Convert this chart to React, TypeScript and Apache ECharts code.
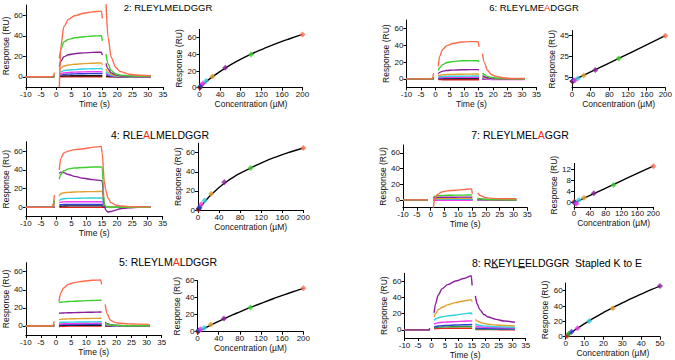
import React, { useEffect, useRef } from "react";
import * as echarts from "echarts";

const FONT = '"Liberation Sans", Arial, sans-serif';
const N = null;

// Sampling times (s) shared by every sensorgram trace; null values break the trace.
const TIME = [-10, -1.5, -1, -0.6, 0, 1, 1.5, 2.5, 4, 6, 9, 12, 14.8, 15.1, 15.8, 16.3, 17, 18, 19.5, 21, 24, 27, 31];

// Analyte concentrations (µM)
const CONC = [0.78, 1.56, 3.125, 6.25, 12.5, 25, 50, 100, 200];
const CONC_8 = [0.78, 1.56, 3.125, 6.25, 12.5, 25, 50];

const RED = "#e5261f";
const BLACK = "#1b1b1b";
const BLUE = "#2f3fd8";
const MAGENTA = "#f23cf0";
const CYAN = "#2fd0e0";
const ORANGE = "#e2a12e";
const PURPLE = "#8b1f9b";
const GREEN = "#3ccf2e";
const DARKGREEN = "#2e9e3a";
const SALMON = "#ff6a4d";

const COLORS = [RED, BLACK, BLUE, MAGENTA, CYAN, ORANGE, PURPLE, GREEN, SALMON];
const COLORS_8 = [RED, DARKGREEN, BLUE, MAGENTA, CYAN, ORANGE, PURPLE];

// Sensorgram responses (RU), one row per concentration
const SENSOR_2 = [
  [0, 0, 0, 0, N, 0, 0, 0, 0, 0, 0, 0, 0, 0, N, 0, 0, 0, 0, 0, 0, 0, 0],
  [0, 0, 0, 0.3, N, 0.3, 0.6, 0.8, 0.9, 1, 1, 1, 1, 0.8, N, 0.6, 0.4, 0.2, 0.1, 0, 0, 0, 0],
  [0, 0, 0, 0.5, N, 1, 1.6, 2.2, 2.6, 2.8, 3, 3.1, 3.2, 2.6, N, 2, 1.3, 0.7, 0.3, 0.2, 0.1, 0, 0],
  [0, 0, 0, 0.5, N, 2, 3, 3.8, 4.2, 4.5, 4.8, 5, 5, 4.2, N, 3.2, 2, 1.1, 0.6, 0.3, 0.1, 0, 0],
  [0, 0, 0, 0.6, N, 3.5, 5, 6, 6.6, 7, 7.5, 7.8, 8, 6.6, N, 5, 3, 1.6, 0.8, 0.4, 0.2, 0.1, 0.1],
  [0, 0, 0, 0.8, N, 6, 8.5, 10.5, 11.5, 12.2, 12.8, 13.2, 13.5, 11.5, N, 7.5, 4.5, 2.3, 1.1, 0.6, 0.3, 0.2, 0.2],
  [0, 0, 0, 1, N, 10, 15, 19.5, 21.5, 22.5, 23.3, 23.8, 24, 21, N, 13, 7.5, 3.8, 1.8, 1, 0.5, 0.3, 0.3],
  [0, 0, 0, 1.5, N, 18, 27, 34, 36.5, 38, 39, 39.7, 40, 35, N, 22, 12.5, 6, 2.8, 1.6, 0.8, 0.5, 0.5],
  [0, 0, 0.5, 4, N, -10, 30, 49, 56, 59.5, 62, 63.3, 64, 57, N, 72, 38, 19, 9, 5, 2.5, 1.5, 1],
];
const SENSOR_4 = [
  [0, 0, 0, 0, N, 0, 0, 0, 0, 0, 0, 0, 0, 0, 0, 0, 0, 0, 0, 0, 0, 0, 0],
  [0, 0, 0, 0.5, N, 1, 1.2, 1.4, 1.5, 1.5, 1.5, 1.5, 1.5, 1.5, 0.3, 0, 0, 0, 0, 0, 0, 0, 0],
  [0, 0, 0, 1, N, 2.5, 2.8, 3, 3, 3, 3, 3, 3, 3, 0.5, 0.2, 0, 0, 0, 0, 0, 0, 0],
  [0, 0, 0.5, 1.5, N, 5, 5.5, 5.8, 6, 6, 6, 6, 6, 6, 1, 0.5, 0.2, 0, 0, 0, 0, 0, 0],
  [0, 0, 0.5, 2, N, 7, 8.5, 9.2, 9.5, 9.6, 9.8, 10, 10, 9.8, 1.5, 0.8, 0.3, 0, 0, 0, 0, 0, 0],
  [0, 0, 1, 3, N, 12, 14.5, 15.5, 16, 16.3, 16.6, 16.8, 17, 16.8, 2, 1, 0.5, 0.2, 0, 0, 0, 0, 0],
  [0, 0, 2, 6, N, 36, 37.5, 37, 35, 33, 31, 29.5, 28.5, 28, 2, -3, -5, -4.5, -3, -1.5, -0.5, 0, 0],
  [0, 0, 2, 8, N, 30, 35, 39, 41, 42, 42.5, 43, 43, 42.5, 3, 1, 0.5, 0.2, 0, 0, 0, 0, 0],
  [0, 0, 3, 13, N, 40, 52, 58, 60, 61.5, 62.5, 64, 65, 58, 28, 18, 10, 5, 2.5, 1.5, 0.8, 0.5, 0.5],
];
const SENSOR_5 = [
  [0, 0, 0, 0, N, -1, -0.5, -0.3, -0.2, 0, 0, 0, 0, 0, N, 0, 0, 0, 0, 0, 0, 0, 0],
  [0, 0, 0, 0.3, N, 0.5, 0.6, 0.7, 0.7, 0.8, 0.8, 0.8, 0.8, 0.8, N, 0.5, 0.3, 0.2, 0.1, 0, 0, 0, 0],
  [0, 0, 0, 0.5, N, 1.2, 1.4, 1.5, 1.6, 1.7, 1.8, 1.9, 2, 1.9, N, 1, 0.6, 0.4, 0.2, 0.1, 0, 0, 0],
  [0, 0, 0, 0.5, N, 2, 2.2, 2.4, 2.5, 2.6, 2.8, 2.9, 3, 2.8, N, 1.5, 1, 0.6, 0.3, 0.2, 0.1, 0, 0],
  [0, 0, 0, 0.8, N, 3.8, 4, 4.1, 4.2, 4.3, 4.4, 4.5, 4.6, 4.4, N, 2, 1.2, 0.7, 0.4, 0.2, 0.1, 0.1, 0],
  [0, 0, 0, 1, N, 7, 7.3, 7.6, 7.8, 8, 8.2, 8.4, 8.5, 8.2, N, 3, 1.8, 1.1, 0.6, 0.4, 0.2, 0.1, 0.1],
  [0, 0, 0, 1.5, N, 14, 14.2, 14.4, 14.6, 14.8, 15, 15.2, 15.5, 15, N, 4, 2.5, 1.5, 0.8, 0.5, 0.3, 0.2, 0.2],
  [0, 0, 0, 2, N, 26, 26.3, 26.6, 27, 27.3, 27.8, 28.2, 28.5, 28, N, 3, 2, 1.2, 0.8, 0.5, 0.3, 0.2, 0.2],
  [0, 0, 0.5, 5, N, 27, 36, 42, 46, 48, 49.5, 50.5, 51, 46, N, 24, 13, 6.5, 4, 3, 2.3, 2, 1.8],
];
const SENSOR_6 = [
  [0, 0, 0, 0, N, -0.5, -0.8, -1, -1, -1, -1, -1, -1, -1, N, -0.5, -0.3, -0.2, 0, 0, 0, 0, 0],
  [0, 0, 0, 0.2, N, 0.3, 0.4, 0.5, 0.5, 0.5, 0.5, 0.5, 0.5, 0.5, N, 0.2, 0.1, 0, 0, 0, 0, 0, 0],
  [0, 0, 0, 0.5, N, 0.8, 1, 1.2, 1.3, 1.4, 1.5, 1.5, 1.5, 1.4, N, 0.8, 0.5, 0.3, 0.1, 0, 0, 0, 0],
  [0, 0, 0, 0.3, N, 1.2, 1.5, 1.7, 1.8, 1.9, 2, 2, 2, 1.9, N, 0.5, 0, -0.5, -0.7, -0.8, -0.8, -0.8, -0.8],
  [0, 0, 0, 0.5, N, 2, 2.5, 2.8, 3, 3.1, 3.2, 3.3, 3.4, 3.2, N, 1.5, 1, 0.5, 0.2, 0, 0, 0, 0],
  [0, 0, 0, 1, N, 3.5, 4.3, 4.8, 5.2, 5.4, 5.6, 5.7, 5.8, 5.4, N, 2.5, 1.5, 0.8, 0.4, 0.2, 0, 0, 0],
  [0, 0, 0, 1.5, N, 6, 7.8, 9.2, 10, 10.4, 10.8, 11, 11, 10.2, N, 4, 2.5, 1.3, 0.6, 0.3, 0, 0, 0],
  [0, 0, 0, 2, N, 10, 13.5, 17, 19.5, 20.7, 21.5, 21.7, 21.5, 20, N, 7, 5, 3, 1.7, 1, 0.4, 0.2, 0],
  [0, 0, 1, 7, N, 15, 27, 35, 39.5, 42, 43.8, 44.3, 44.2, 38, N, 30, 19, 10, 5, 3, 1, 0.5, 0.5],
];
const SENSOR_7 = [
  [0, 0, 0, N, N, -0.5, -0.5, -0.5, -0.5, -0.5, -0.5, -0.5, -0.5, -0.5, N, N, 0, 0, 0, 0, 0, 0, 0],
  [0, 0, 0, N, N, 0, 0, 0, 0, 0, 0, 0, 0, 0, N, N, 0, 0, 0, 0, 0, 0, 0],
  [0, 0, 0, N, N, 0.3, 0.3, 0.3, 0.3, 0.3, 0.3, 0.3, 0.3, 0.3, N, N, 0.1, 0, 0, 0, 0, 0, 0],
  [0, 0, 0, N, N, -0.3, -0.4, -0.4, -0.5, -0.5, -0.5, -0.5, -0.5, -0.5, N, N, -0.3, -0.2, -0.2, -0.1, 0, 0, 0],
  [0, 0, 0, N, N, 1, 1, 1, 1, 1, 1.1, 1.1, 1.1, 1, N, N, 0.5, 0.3, 0.2, 0.1, 0, 0, 0],
  [0, 0, 0, N, N, 1.5, 1.6, 1.7, 1.8, 1.8, 1.9, 1.9, 2, 1.9, N, N, 0.8, 0.5, 0.3, 0.2, 0.1, 0.1, 0.1],
  [0, 0, 0, N, N, 2.8, 3, 3.2, 3.3, 3.4, 3.4, 3.5, 3.5, 3.4, N, N, 1.2, 0.8, 0.5, 0.3, 0.2, 0.1, 0.1],
  [0, 0, 0, N, N, 4, 4.8, 5.3, 5.6, 5.8, 6, 6.1, 6.3, 6, N, N, 2, 1.3, 0.8, 0.5, 0.3, 0.2, 0.2],
  [0, 0, 0, N, N, -10, 2, 7, 10, 11.5, 12.3, 13.2, 14, 8, N, N, 9, 5.5, 3.2, 2.2, 1.6, 1.4, 1.4],
];
const SENSOR_8 = [
  [0, 0, 0, 0.2, N, 1.5, 1.7, 1.8, 1.9, 2, 2, 2, 2, 2, N, 0.8, 0.6, 0.5, 0.4, 0.3, 0.3, 0.2, 0.2],
  [0, 0, 0, 0.3, N, 2.5, 3, 3.3, 3.6, 3.8, 4, 4.2, 4.3, 4, N, 1.5, 1.3, 1.1, 1, 0.9, 0.8, 0.7, 0.7],
  [0, 0, 0, 0.5, N, 3.5, 4.2, 4.8, 5.2, 5.6, 6, 6.3, 6.6, 6, N, 2.5, 2.2, 2, 1.8, 1.6, 1.5, 1.4, 1.3],
  [0, 0, 0, 0.8, N, 7, 8, 8.8, 9.4, 9.8, 10.3, 10.8, 11.2, 10.3, N, 5, 4.3, 3.8, 3.3, 3, 2.7, 2.5, 2.3],
  [0, 0, 0, 1, N, 12, 13.5, 15, 16.3, 17.3, 18.5, 19.8, 21, 19, N, 7.5, 6.5, 5.6, 5, 4.5, 4, 3.6, 3.3],
  [0, 0, 0, 1.5, N, 16, 20, 25, 28, 31, 33.8, 35.8, 37.5, 35, N, 13, 11, 9.5, 8, 7, 6, 5.5, 5],
  [0, 0, 0, 2, N, 21, 32, 43, 51, 56, 60.5, 63.5, 67, 55, N, 42, 32, 25, 19, 16, 13, 11, 9.5],
];

// Steady-state responses (RU) per concentration
const BOUND_2 = [0, 1, 3, 5, 8, 13.5, 24, 40, 64];
const BOUND_4 = [0.5, 1.5, 3, 6, 10, 17, 29, 44, 65];
const BOUND_5 = [0, 1, 1.8, 3, 4.5, 8.5, 15.5, 28.5, 51];
const BOUND_6 = [1, 1.5, 2, 2.2, 3.8, 6.8, 12, 23, 45];
const BOUND_7 = [0.3, 0, 0, -0.4, 1, 1.8, 3.4, 6.3, 13];
const BOUND_8 = [1, 3.5, 6.5, 11, 20.5, 37, 66];

// Fitted binding curves
const FIT_X = [0, 12.5, 25, 50, 75, 100, 125, 150, 175, 200];
const FIT_2 = [0, 7, 13, 23.5, 32.5, 40.3, 47, 53.2, 58.8, 64];
const FIT_4 = [0, 8.5, 16, 28, 37, 44, 50.5, 56, 60.8, 65];
const FIT_5 = [0, 3.8, 7.7, 15.2, 22, 28.5, 34.6, 40.3, 45.8, 51];
const FIT_X_LIN = [0, 50, 100, 150, 200];
const FIT_6 = [1.5, 12.3, 23.2, 34, 45];
const FIT_7 = [-0.1, 3.2, 6.5, 9.8, 13];
const FIT_X_8 = [0, 5, 10, 15, 20, 25, 30, 35, 40, 45, 50];
const FIT_8 = [0, 9, 17, 24.5, 31.5, 38, 44, 50, 55.5, 61, 66];

const RU_TICKS = [0, 20, 40, 60];

type Panel = {
  sensor: (number | null)[][];
  colors: string[];
  conc: number[];
  bound: number[];
  fitX: number[];
  fitY: number[];
  sGrid: number[];
  bGrid: number[];
  bX: { max: number; interval: number };
  bY: { min: number; max: number; ticks: number[] };
};

const PANELS: Panel[] = [
  { sensor: SENSOR_2, colors: COLORS, conc: CONC, bound: BOUND_2, fitX: FIT_X, fitY: FIT_2,
    sGrid: [23.5, 5, 139.5, 82], bGrid: [199.5, 29.4, 103, 58.3],
    bX: { max: 200, interval: 40 }, bY: { min: 0, max: 70, ticks: RU_TICKS } },
  { sensor: SENSOR_6, colors: COLORS, conc: CONC, bound: BOUND_6, fitX: FIT_X_LIN, fitY: FIT_6,
    sGrid: [406.5, 20, 130, 67.3], bGrid: [572, 30.5, 95.7, 57.2],
    bX: { max: 200, interval: 40 }, bY: { min: -5, max: 50, ticks: [5, 25, 45] } },
  { sensor: SENSOR_4, colors: COLORS, conc: CONC, bound: BOUND_4, fitX: FIT_X, fitY: FIT_4,
    sGrid: [23.5, 141.7, 139.2, 75], bGrid: [198, 143.2, 105.3, 66.8],
    bX: { max: 200, interval: 40 }, bY: { min: 0, max: 70, ticks: RU_TICKS } },
  { sensor: SENSOR_7, colors: COLORS, conc: CONC, bound: BOUND_7, fitX: FIT_X_LIN, fitY: FIT_7,
    sGrid: [403, 145, 124.3, 62.7], bGrid: [574, 163.4, 79.3, 43.5],
    bX: { max: 200, interval: 40 }, bY: { min: -1.5, max: 14, ticks: [0, 4, 8, 12] } },
  { sensor: SENSOR_5, colors: COLORS, conc: CONC, bound: BOUND_5, fitX: FIT_X, fitY: FIT_5,
    sGrid: [23, 262.7, 138.7, 72.3], bGrid: [197.5, 280.7, 105.8, 51],
    bX: { max: 200, interval: 40 }, bY: { min: 0, max: 60, ticks: RU_TICKS } },
  { sensor: SENSOR_8, colors: COLORS_8, conc: CONC_8, bound: BOUND_8, fitX: FIT_X_8, fitY: FIT_8,
    sGrid: [404.5, 273.3, 121.2, 66], bGrid: [565.7, 283, 94.3, 53.7],
    bX: { max: 50, interval: 10 }, bY: { min: 0, max: 70, ticks: RU_TICKS } },
];

const TITLE_RICH = (size: number) => ({
  a: { fill: "#ff2a12", fontSize: size, fontFamily: FONT },
});

const TITLES = [
  { text: "2: RLEYLMELDGGR", x: 168, y: 7, size: 9.5 },
  { text: "6: RLEYLME{a|A}DGGR", x: 534, y: 7, size: 9.5 },
  { text: "4: RLE{a|A}LMELDGGR", x: 160, y: 135, size: 10.5 },
  { text: "7: RLEYLMEL{a|A}GGR", x: 520, y: 135, size: 10.5 },
  { text: "5: RLEYLM{a|A}LDGGR", x: 168, y: 261.7, size: 10.5 },
];

const axisBase = {
  axisLine: { onZero: false, lineStyle: { color: "#000", width: 1 } },
  axisTick: { length: 3, lineStyle: { color: "#000", width: 1 } },
  axisLabel: { color: "#111", fontSize: 8, fontFamily: FONT, margin: 3 },
  splitLine: { show: false },
  nameLocation: "middle" as const,
  nameTextStyle: { color: "#111", fontSize: 8.5, fontFamily: FONT },
};

function buildOption() {
  const grid: any[] = [];
  const xAxis: any[] = [];
  const yAxis: any[] = [];
  const series: any[] = [];

  PANELS.forEach((p) => {
    const si = grid.length;
    grid.push({ left: p.sGrid[0], top: p.sGrid[1], width: p.sGrid[2], height: p.sGrid[3], containLabel: false });
    xAxis.push({ ...axisBase, type: "value", gridIndex: si, min: -10, max: 35, interval: 5, name: "Time (s)", nameGap: 12 });
    yAxis.push({
      ...axisBase, type: "value", gridIndex: si, min: -10, max: 70, name: "Response (RU)", nameGap: 13,
      axisTick: { ...axisBase.axisTick, customValues: RU_TICKS },
      axisLabel: { ...axisBase.axisLabel, customValues: RU_TICKS },
    });
    p.sensor.forEach((curve, ci) => {
      series.push({
        type: "line", xAxisIndex: si, yAxisIndex: si, silent: true,
        data: TIME.map((t, k) => [t, curve[k]]),
        showSymbol: false, smooth: 0.3, smoothMonotone: "x", connectNulls: false,
        lineStyle: { width: 1.4, color: p.colors[ci] }, itemStyle: { color: p.colors[ci] },
        z: 2 + ci,
      });
    });

    const bi = grid.length;
    grid.push({ left: p.bGrid[0], top: p.bGrid[1], width: p.bGrid[2], height: p.bGrid[3], containLabel: false });
    xAxis.push({ ...axisBase, type: "value", gridIndex: bi, min: 0, max: p.bX.max, interval: p.bX.interval, name: "Concentration (µM)", nameGap: 12 });
    yAxis.push({
      ...axisBase, type: "value", gridIndex: bi, min: p.bY.min, max: p.bY.max, name: "Response (RU)", nameGap: 13,
      axisTick: { ...axisBase.axisTick, customValues: p.bY.ticks },
      axisLabel: { ...axisBase.axisLabel, customValues: p.bY.ticks },
    });
    series.push({
      type: "line", xAxisIndex: bi, yAxisIndex: bi, silent: true,
      data: p.fitX.map((x, k) => [x, p.fitY[k]]),
      showSymbol: false, smooth: true,
      lineStyle: { width: 1.4, color: "#000" }, z: 2,
    });
    series.push({
      type: "scatter", xAxisIndex: bi, yAxisIndex: bi, silent: true,
      symbol: "diamond", symbolSize: 6,
      data: p.conc.map((c, k) => ({ value: [c, p.bound[k]], itemStyle: { color: p.colors[k] } })),
      z: 3,
    });
  });

  const graphic: any[] = TITLES.map((t) => ({
    type: "text", x: t.x, y: t.y, silent: true,
    style: {
      text: t.text, fontSize: t.size, fontFamily: FONT, fill: "#000",
      align: "center", verticalAlign: "middle", rich: TITLE_RICH(t.size),
    },
  }));

  // Stapled peptide title with underlined K and E
  const t8 = "8: RKEYLEELDGGR";
  const t8x = 472;
  const t8y = 262.7;
  const size8 = 10.5;
  const ctx = document.createElement("canvas").getContext("2d")!;
  ctx.font = `${size8}px ${FONT}`;
  const w = (s: string) => ctx.measureText(s).width;
  graphic.push({
    type: "text", x: t8x, y: t8y, silent: true,
    style: { text: t8, fontSize: size8, fontFamily: FONT, fill: "#000", align: "left", verticalAlign: "middle" },
  });
  graphic.push({
    type: "text", x: 575, y: t8y, silent: true,
    style: { text: "Stapled K to E", fontSize: size8, fontFamily: FONT, fill: "#000", align: "left", verticalAlign: "middle" },
  });
  [["8: R", "K"], ["8: RKEYL", "E"]].forEach(([pre, ch]) => {
    const x0 = t8x + w(pre);
    graphic.push({
      type: "line", silent: true,
      shape: { x1: x0, y1: t8y + 5, x2: x0 + w(ch), y2: t8y + 5 },
      style: { stroke: "#000", lineWidth: 1 },
    });
  });

  return { animation: false, backgroundColor: "#fff", grid, xAxis, yAxis, series, graphic };
}

export default function App() {
  const ref = useRef<HTMLDivElement>(null);
  useEffect(() => {
    const chart = echarts.init(ref.current!, null, { renderer: "svg" });
    chart.setOption(buildOption());
    return () => chart.dispose();
  }, []);
  return <div ref={ref} style={{ position: "absolute", left: 0, top: 0, width: 675, height: 360 }} />;
}
